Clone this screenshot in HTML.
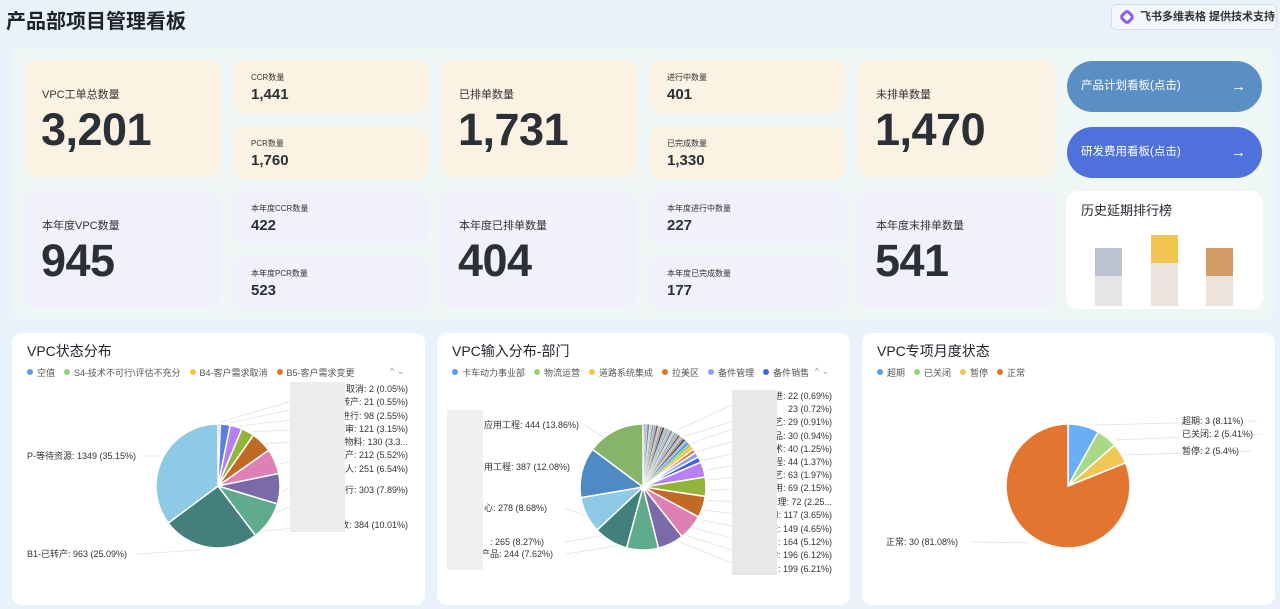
<!DOCTYPE html>
<html><head><meta charset="utf-8">
<style>
*{margin:0;padding:0;box-sizing:border-box}
body{width:1280px;height:609px;overflow:hidden;background:#e9f2fb;font-family:"Liberation Sans","Noto Sans CJK SC",sans-serif;color:#1f2329;position:relative}
.a{position:absolute}
.card{position:absolute;border-radius:12px}
.o{background:#fcf2e4}.l{background:#f0f1fb}
.bl{font-size:11px;color:#333}
.bn{font-size:45px;font-weight:bold;color:#2b2f36;letter-spacing:-0.5px}
.sl{font-size:8px;color:#333}
.sn{font-size:15px;font-weight:bold;color:#2b2f36}
.btn{position:absolute;border-radius:26px;color:#fff;font-size:11.5px;padding-left:14px;line-height:51px}
.btn span{position:absolute;right:16px;top:0;font-size:15px}
.panel{position:absolute;background:#fff;border-radius:10px}
.t{font-size:14px;color:#1f2329}
.lg{font-size:9px;color:#555;white-space:nowrap}
.lg i{display:inline-block;width:6px;height:6px;border-radius:3px;margin:0 4px 0 0;vertical-align:1px}
.lg b{font-weight:normal;margin-right:9px}
svg text{font-family:"Liberation Sans","Noto Sans CJK SC",sans-serif;font-size:9px;fill:#333}
</style></head><body>
<div class="a" style="left:6px;top:5px;font-size:20px;font-weight:bold">产品部项目管理看板</div>
<div class="a" style="left:1111px;top:4px;width:166px;height:26px;border:1px solid #d6dde8;border-radius:5px;background:#f3f7fc;font-size:11px;line-height:24px;padding-left:28px;font-weight:bold;color:#333"><span style="position:absolute;left:9px;top:6px;width:12px;height:12px;border:3px solid #8b5cf6;border-radius:4px;transform:rotate(45deg)"></span>飞书多维表格 提供技术支持</div>
<div class="a" style="left:12px;top:47px;width:1263px;height:273px;background:#eef7f5;border-radius:12px"></div>

<div class="card o" style="left:25px;top:60px;width:196px;height:117px"></div>
<div class="a bl" style="left:42px;top:86px">VPC工单总数量</div><div class="a bn" style="left:41px;top:104px">3,201</div>
<div class="card o" style="left:233px;top:60px;width:196px;height:53px"></div>
<div class="a sl" style="left:251px;top:72px">CCR数量</div><div class="a sn" style="left:251px;top:86px">1,441</div>
<div class="card o" style="left:233px;top:126px;width:196px;height:53px"></div>
<div class="a sl" style="left:251px;top:138px">PCR数量</div><div class="a sn" style="left:251px;top:152px">1,760</div>
<div class="card l" style="left:25px;top:191px;width:196px;height:117px"></div>
<div class="a bl" style="left:42px;top:217px">本年度VPC数量</div><div class="a bn" style="left:41px;top:235px">945</div>
<div class="card l" style="left:233px;top:191px;width:196px;height:52px"></div>
<div class="a sl" style="left:251px;top:203px">本年度CCR数量</div><div class="a sn" style="left:251px;top:217px">422</div>
<div class="card l" style="left:233px;top:256px;width:196px;height:53px"></div>
<div class="a sl" style="left:251px;top:268px">本年度PCR数量</div><div class="a sn" style="left:251px;top:282px">523</div>

<div class="card o" style="left:441px;top:60px;width:196px;height:117px"></div>
<div class="a bl" style="left:459px;top:86px">已排单数量</div><div class="a bn" style="left:458px;top:104px">1,731</div>
<div class="card o" style="left:650px;top:60px;width:196px;height:53px"></div>
<div class="a sl" style="left:667px;top:72px">进行中数量</div><div class="a sn" style="left:667px;top:86px">401</div>
<div class="card o" style="left:650px;top:126px;width:196px;height:53px"></div>
<div class="a sl" style="left:667px;top:138px">已完成数量</div><div class="a sn" style="left:667px;top:152px">1,330</div>
<div class="card l" style="left:441px;top:191px;width:196px;height:117px"></div>
<div class="a bl" style="left:459px;top:217px">本年度已排单数量</div><div class="a bn" style="left:458px;top:235px">404</div>
<div class="card l" style="left:650px;top:191px;width:196px;height:52px"></div>
<div class="a sl" style="left:667px;top:203px">本年度进行中数量</div><div class="a sn" style="left:667px;top:217px">227</div>
<div class="card l" style="left:650px;top:256px;width:196px;height:53px"></div>
<div class="a sl" style="left:667px;top:268px">本年度已完成数量</div><div class="a sn" style="left:667px;top:282px">177</div>

<div class="card o" style="left:858px;top:60px;width:197px;height:117px"></div>
<div class="a bl" style="left:876px;top:86px">未排单数量</div><div class="a bn" style="left:875px;top:104px">1,470</div>
<div class="card l" style="left:858px;top:191px;width:197px;height:117px"></div>
<div class="a bl" style="left:876px;top:217px">本年度末排单数量</div><div class="a bn" style="left:875px;top:235px">541</div>

<div class="btn" style="left:1067px;top:61px;width:195px;height:51px;background:#5a8fc6">产品计划看板(点击)<span>→</span></div>
<div class="btn" style="left:1067px;top:127px;width:195px;height:51px;background:#4e71dc">研发费用看板(点击)<span>→</span></div>
<div class="card" style="left:1066px;top:191px;width:197px;height:118px;background:#fff"></div>
<div class="a" style="left:1081px;top:200px;font-size:13px">历史延期排行榜</div>
<div class="a" style="left:1095px;top:248px;width:27px;height:28px;background:#bcc3ce"></div>
<div class="a" style="left:1095px;top:276px;width:27px;height:30px;background:#e6e6e8"></div>
<div class="a" style="left:1151px;top:235px;width:27px;height:28px;background:#f1c550"></div>
<div class="a" style="left:1151px;top:263px;width:27px;height:43px;background:#ece4dc"></div>
<div class="a" style="left:1206px;top:248px;width:27px;height:28px;background:#d49a68"></div>
<div class="a" style="left:1206px;top:276px;width:27px;height:30px;background:#eee3da"></div>

<div class="panel" style="left:12px;top:333px;width:413px;height:272px"></div>
<div class="panel" style="left:437px;top:333px;width:413px;height:272px"></div>
<div class="panel" style="left:862px;top:333px;width:413px;height:272px"></div>
<div class="a t" style="left:27px;top:341px">VPC状态分布</div>
<div class="a lg" style="left:27px;top:366px"><i style="background:#5b9cf0"></i><b>空值</b><i style="background:#9bd174"></i><b>S4-技术不可行\评估不充分</b><i style="background:#f3c54a"></i><b>B4-客户需求取消</b><i style="background:#e0742c"></i><b>B5-客户需求变更</b></div>
<div class="a t" style="left:452px;top:341px">VPC输入分布-部门</div>
<div class="a lg" style="left:452px;top:366px"><i style="background:#5b9cf0"></i><b>卡车动力事业部</b><i style="background:#9bd174"></i><b>物流运营</b><i style="background:#f3c54a"></i><b>道路系统集成</b><i style="background:#e0742c"></i><b>拉美区</b><i style="background:#8f9ef0"></i><b>备件管理</b><i style="background:#3d63e0"></i><b>备件销售</b></div>
<div class="a t" style="left:877px;top:341px">VPC专项月度状态</div>
<div class="a lg" style="left:877px;top:366px"><i style="background:#5b9cf0"></i><b>超期</b><i style="background:#9bd174"></i><b>已关闭</b><i style="background:#f3c54a"></i><b>暂停</b><i style="background:#e0742c"></i><b>正常</b></div>
<div class="a" style="left:390px;top:366px;font-size:9px;color:#999">^ ⌄</div>
<div class="a" style="left:815px;top:366px;font-size:9px;color:#999">^ ⌄</div>

<svg class="a" style="left:0;top:0" width="1280" height="609" id="s"></svg>
<script>
var s=document.getElementById('s'),h='';
function pie(cx,cy,r,data){var a=-Math.PI/2,tot=0;data.forEach(function(d){tot+=d[0]});
data.forEach(function(d){var b=a+d[0]/tot*2*Math.PI;var x1=cx+r*Math.cos(a),y1=cy+r*Math.sin(a),x2=cx+r*Math.cos(b),y2=cy+r*Math.sin(b);
h+='<path d="M'+cx+','+cy+'L'+x1+','+y1+'A'+r+','+r+' 0 '+((b-a)>Math.PI?1:0)+' 1 '+x2+','+y2+'Z" fill="'+d[1]+'" stroke="#fff" stroke-width="'+(d[0]/tot<0.01?0.3:1.5)+'"/>';a=b;});}
function lab(x,y,t,anchor,lx,ly){var ex=anchor=='end'?x-t.length*5-10:x+t.length*5+10;
h+='<polyline points="'+lx+','+ly+' '+(anchor=='end'?ex:ex)+','+(y-3)+'" fill="none" stroke="#e2e2e2" stroke-width="0.8"/><text x="'+x+'" y="'+y+'" text-anchor="'+(anchor||'start')+'">'+t+'</text>';}
lab(27,459,'P-等待资源: 1349 (35.15%)','start',160,456);
lab(27,557,'B1-已转产: 963 (25.09%)','start',200,550);
var r1=[[392,'取消: 2 (0.05%)'],[405,'转产: 21 (0.55%)'],[419,'进行: 98 (2.55%)'],[432,'评审: 121 (3.15%)'],[445,'物料: 130 (3.3...'],[458,'产: 212 (5.52%)'],[472,'人: 251 (6.54%)'],[493,'行: 303 (7.89%)'],[528,'数: 384 (10.01%)']];
var ang1=[-88,-80,-70,-58,-42,-20,5,25,45];
r1.forEach(function(e,i){var t=ang1[i]*Math.PI/180;lab(408,e[0],e[1],'end',218+64*Math.cos(t),486+64*Math.sin(t))});
var r2=[[399,'改进: 22 (0.69%)'],[412,'23 (0.72%)'],[425,'工艺: 29 (0.91%)'],[439,'产品: 30 (0.94%)'],[452,'技术: 40 (1.25%)'],[465,'工程: 44 (1.37%)'],[478,'工艺: 63 (1.97%)'],[491,'应用: 69 (2.15%)'],[505,'管理: 72 (2.25...'],[518,'应用: 117 (3.65%)'],[532,'工程: 149 (4.65%)'],[545,'应用: 164 (5.12%)'],[558,'采购: 196 (6.12%)'],[572,'应用: 199 (6.21%)']];
r2.forEach(function(e,i){var t=(-60+i*9)*Math.PI/180;lab(832,e[0],e[1],'end',643+65*Math.cos(t),487+65*Math.sin(t))});
lab(484,428,'应用工程: 444 (13.86%)','start',608,440);
lab(484,470,'用工程: 387 (12.08%)','start',588,468);
lab(484,541-30,'心: 278 (8.68%)','start',592,518);
lab(490,545,': 265 (8.27%)','start',605,535);
lab(481,557,'产品: 244 (7.62%)','start',622,545);
lab(1182,424,'超期: 3 (8.11%)','start',1095,425);
lab(1182,437,'已关闭: 2 (5.41%)','start',1115,440);
lab(1182,454,'暂停: 2 (5.4%)','start',1125,455);
lab(886,545,'正常: 30 (81.08%)','start',1030,543);
pie(218,486,62,[[0.05,'#ccc'],[0.55,'#bbb'],[2.55,'#5b7fe0'],[3.15,'#b77ff0'],[3.39,'#93b43a'],[5.52,'#c06a25'],[6.54,'#de80b4'],[7.89,'#7a6aa8'],[10.01,'#5fab8c'],[25.09,'#43807c'],[35.15,'#8ecae6']]);
var d2=[];var gc=['#9aa','#bbb','#789','#ccd','#8a9','#aab','#667','#cba','#99a','#444','#abc'];
for(var i=0;i<22;i++)d2.push([11.49/22,gc[i%gc.length]]);
d2=d2.concat([[0.69,'#5b9cf0'],[0.72,'#9bd174'],[0.91,'#f3c54a'],[0.94,'#e0742c'],[1.25,'#8f9ef0'],[1.37,'#3d63e0'],[3.65,'#b77ff0'],[4.65,'#93b43a'],[5.12,'#c06a25'],[6.12,'#de80b4'],[6.21,'#7a6aa8'],[7.62,'#5fab8c'],[8.27,'#43807c'],[8.68,'#8ecae6'],[12.08,'#4f8ac4'],[13.86,'#86b46a']]);
pie(643,487,63,d2);
pie(1068,486,62,[[8.11,'#6aaef5'],[5.41,'#a9d984'],[5.4,'#f0c755'],[81.08,'#e27630']]);
h+='<rect x="290" y="382" width="55" height="150" fill="#ececec"/>';
h+='<rect x="447" y="410" width="36" height="160" fill="#f0f0f0"/>';
h+='<rect x="732" y="390" width="45" height="185" fill="#e8e8e8"/>';
s.innerHTML=h;
</script>
</body></html>
